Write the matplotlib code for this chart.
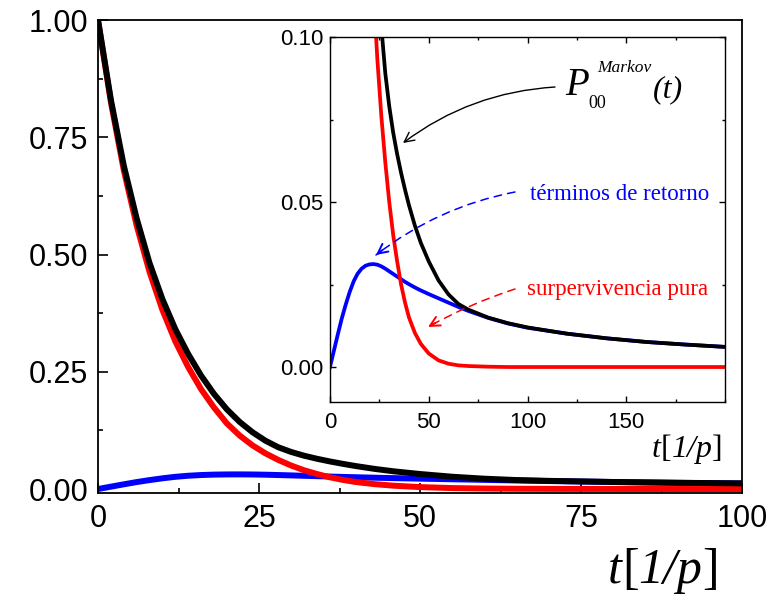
import matplotlib
matplotlib.use('Agg')
import matplotlib.pyplot as plt
from matplotlib.ticker import MultipleLocator
import numpy as np

# t in units of 1/p
t = [0, 2, 4, 6, 8, 10, 12, 14, 16, 18, 20, 22, 24, 26, 28, 30, 32, 34, 36,
     38, 40, 43, 46, 50, 55, 60, 65, 70, 80, 90, 100, 120, 140, 160, 180, 200]

# pure survival (red)
survival = [1.000, 0.825, 0.680, 0.562, 0.463, 0.382, 0.315, 0.260, 0.213,
            0.174, 0.140, 0.114, 0.093, 0.076, 0.062, 0.050, 0.040, 0.032,
            0.025, 0.0195, 0.015, 0.0103, 0.0070, 0.0041, 0.0020, 0.0010,
            0.0005, 0.0003, 0.0001, 0.0, 0.0, 0.0, 0.0, 0.0, 0.0, 0.0]

# return terms (blue)
returns = [0.0, 0.0050, 0.0100, 0.0148, 0.0190, 0.0228, 0.0260, 0.0283,
           0.0298, 0.0307, 0.0311, 0.0312, 0.0310, 0.0305, 0.0298, 0.0290,
           0.0282, 0.0274, 0.0266, 0.0258, 0.0251, 0.0241, 0.0232, 0.0221,
           0.0208, 0.0195, 0.0182, 0.0170, 0.0149, 0.0132, 0.0119, 0.0101,
           0.0087, 0.0076, 0.0068, 0.0061]

# P00 Markov (black)
p00 = [1.000, 0.830, 0.690, 0.577, 0.482, 0.405, 0.341, 0.288, 0.242, 0.203,
       0.170, 0.143, 0.121, 0.103, 0.089, 0.079, 0.071, 0.0645, 0.0588,
       0.0537, 0.049, 0.0428, 0.0376, 0.0320, 0.0262, 0.0220, 0.0191,
       0.0174, 0.0150, 0.0133, 0.0120, 0.0101, 0.0087, 0.0076, 0.0068, 0.0061]

main_xticks = [0, 25, 50, 75, 100]
main_yticks = [0.0, 0.25, 0.50, 0.75, 1.00]
inset_xticks = [0, 50, 100, 150]
inset_yticks = [0.00, 0.05, 0.10]

W, H = 772, 599
plt.rcParams['font.family'] = ['Liberation Sans', 'DejaVu Sans']
SERIF = ['Liberation Serif', 'DejaVu Serif']


def fig_box(left, top, right, bottom):
    return [left / W, 1 - bottom / H, (right - left) / W, (bottom - top) / H]


fig = plt.figure(figsize=(W / 100, H / 100), dpi=100)
renderer = fig.canvas.get_renderer()


def chain_text(x, y, parts, size):
    """Write text pieces one after another from pixel (x, y) on the baseline."""
    for s, style in parts:
        txt = fig.text(x / W, 1 - y / H, s, fontsize=size, style=style,
                       family=SERIF, va='baseline', ha='left')
        x = txt.get_window_extent(renderer).x1


label_parts = [('t', 'italic'), ('[', 'normal'), ('1/p', 'italic'),
               (']', 'normal')]

# ---- main axes
ax = fig.add_axes(fig_box(98, 20, 742, 493))
ax.plot(t, returns, color='#0000ff', lw=4.3, solid_capstyle='butt')
ax.plot(t, survival, color='#ff0000', lw=4.3, solid_capstyle='butt')
ax.plot(t, p00, color='black', lw=4.3, solid_capstyle='butt')
ax.set_xlim(0, 100)
ax.set_ylim(-0.0085, 1.0)
ax.set_xticks(main_xticks)
ax.set_yticks(main_yticks)
ax.set_yticklabels([f'{v:.2f}' for v in main_yticks])
ax.xaxis.set_minor_locator(MultipleLocator(12.5))
ax.yaxis.set_minor_locator(MultipleLocator(0.125))
ax.tick_params(which='both', direction='in', width=1.2, labelsize=22)
ax.tick_params(which='major', length=7)
ax.tick_params(which='minor', length=3.6)
ax.tick_params(axis='x', pad=8)
ax.tick_params(axis='y', pad=7)
for s in ax.spines.values():
    s.set_linewidth(1.3)
chain_text(608, 583, label_parts, 36)

# ---- inset
axi = fig.add_axes(fig_box(330, 37, 725, 402))
axi.plot(t, returns, color='#0000ff', lw=2.7)
axi.plot(t, survival, color='#ff0000', lw=2.7)
axi.plot(t, p00, color='black', lw=2.7)
axi.set_xlim(0, 200)
axi.set_ylim(-0.0106, 0.10)
axi.set_xticks(inset_xticks)
axi.set_yticks(inset_yticks)
axi.set_yticklabels([f'{v:.2f}' for v in inset_yticks])
axi.xaxis.set_minor_locator(MultipleLocator(25))
axi.yaxis.set_minor_locator(MultipleLocator(0.025))
axi.tick_params(which='both', direction='in', top=True, right=True,
                width=1.0, labelsize=16)
axi.tick_params(which='major', length=4)
axi.tick_params(which='minor', length=2.5)
axi.tick_params(axis='x', pad=7)
axi.tick_params(axis='y', pad=5)
for s in axi.spines.values():
    s.set_linewidth(1.0)
chain_text(652, 457, label_parts, 23)

# ---- labels inside the inset
fig.text(565 / W, 1 - 95 / H, 'P', fontsize=28, style='italic',
         family=SERIF, va='baseline')
fig.text(588 / W, 1 - 108 / H, '00', fontsize=13, family=SERIF,
         va='baseline')
fig.text(597 / W, 1 - 72 / H, 'Markov', fontsize=12.5, style='italic',
         family=SERIF, va='baseline')
fig.text(653 / W, 1 - 97 / H, '(t)', fontsize=23, style='italic',
         family=SERIF, va='baseline')
fig.text(530 / W, 1 - 200 / H, 'términos de retorno', fontsize=16.5,
         color='#0000ff', family=SERIF, va='baseline')
fig.text(527 / W, 1 - 295 / H, 'surpervivencia pura', fontsize=16.5,
         color='#ff0000', family=SERIF, va='baseline')


def arrow(start, end, color, dashed, rad):
    a = np.array([start[0], H - start[1]], float)
    b = np.array([end[0], H - end[1]], float)
    head = '->,head_length=0.7,head_width=0.35'
    if not dashed:
        axi.annotate('', xy=b, xycoords='figure pixels', xytext=a,
                     textcoords='figure pixels',
                     arrowprops=dict(arrowstyle=head, color=color, lw=1.0,
                                     connectionstyle=f'arc3,rad={rad}',
                                     shrinkA=0, shrinkB=0))
        return
    axi.annotate('', xy=b, xycoords='figure pixels', xytext=a,
                 textcoords='figure pixels',
                 arrowprops=dict(arrowstyle='-', color=color, lw=1.1,
                                 ls=(0, (5, 4)),
                                 connectionstyle=f'arc3,rad={rad}',
                                 shrinkA=0, shrinkB=0))
    # solid head along the end tangent of the arc
    d = b - a
    ctrl = (a + b) / 2 + rad * np.array([d[1], -d[0]])
    u = (b - ctrl) / np.linalg.norm(b - ctrl)
    axi.annotate('', xy=b, xycoords='figure pixels', xytext=b - 8 * u,
                 textcoords='figure pixels',
                 arrowprops=dict(arrowstyle=head, color=color, lw=1.4,
                                 shrinkA=0, shrinkB=0))


arrow((555, 87), (403, 143), 'black', False, 0.15)
arrow((515, 192), (376, 255), '#0000ff', True, 0.12)
arrow((515, 289), (428, 327), '#ff0000', True, 0.05)

fig.savefig('out.png', dpi=100)
